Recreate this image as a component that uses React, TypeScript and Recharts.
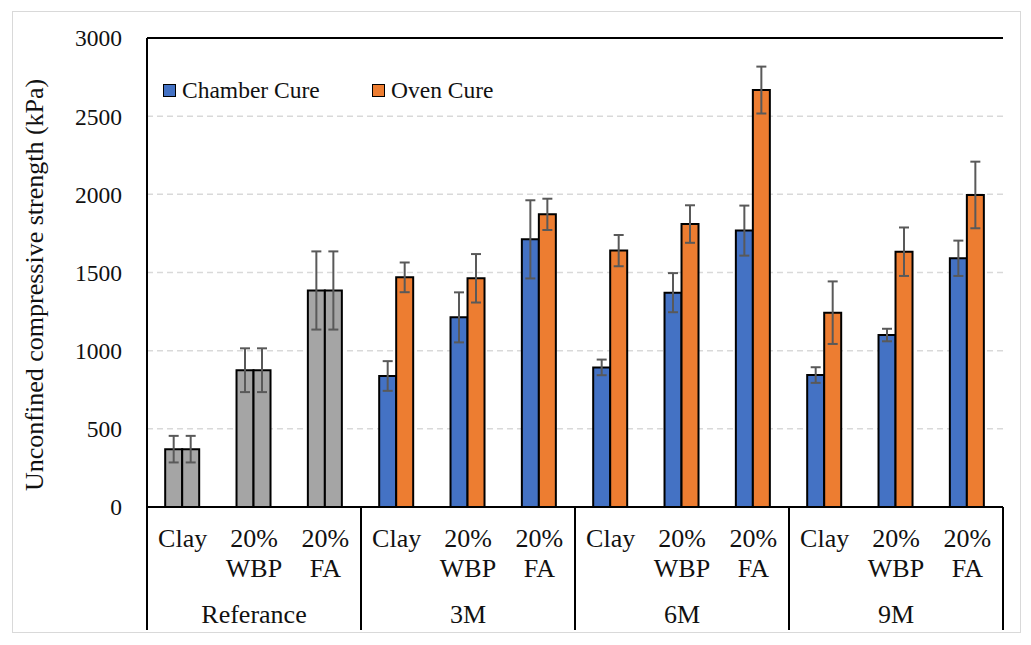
import React from "react";
import {
  BarChart, Bar, XAxis, YAxis, CartesianGrid, ErrorBar, Cell, ReferenceLine,
} from "recharts";

const categories = [
  "Clay", "20% WBP", "20% FA",
  "Clay", "20% WBP", "20% FA",
  "Clay", "20% WBP", "20% FA",
  "Clay", "20% WBP", "20% FA",
];
const groups = ["Referance", "3M", "6M", "9M"];

const chamber = [370, 875, 1385, 838, 1213, 1712, 893, 1371, 1768, 844, 1100, 1591];
const chamberErr = [85, 140, 250, 95, 160, 250, 50, 125, 160, 50, 40, 113];
const oven = [370, 875, 1385, 1469, 1463, 1872, 1640, 1810, 2667, 1243, 1633, 1996];
const ovenErr = [85, 140, 250, 95, 155, 100, 100, 120, 150, 200, 155, 213];

const yTicks = [0, 500, 1000, 1500, 2000, 2500, 3000];

const BLUE = "#4472C4";
const ORANGE = "#ED7D31";
const GRAY = "#A5A5A5";
const FONT = "Liberation Serif, DejaVu Serif, Times New Roman, serif";

const W = 1031;
const H = 645;
const margin = { top: 38, right: 28, left: 13, bottom: 13 };
const yAxisWidth = 134;
const xAxisHeight = 125;
const band = (W - margin.left - margin.right - yAxisWidth) / categories.length;

const data = categories.map((name, i) => ({
  name: `${name}#${i}`,
  label: name,
  group: groups[Math.floor(i / 3)],
  chamber: chamber[i],
  chamberErr: chamberErr[i],
  oven: oven[i],
  ovenErr: ovenErr[i],
}));

function CategoryTick(props: any) {
  const { x, y, index } = props;
  const d = data[index];
  const lines = d.label.split(" ");
  return (
    <g>
      {lines.map((t: string, k: number) => (
        <text key={k} x={x} y={y + 40 + k * 30} textAnchor="middle"
          style={{ fontFamily: FONT }} fontSize={26} fill="#111">{t}</text>
      ))}
      {index % 3 === 1 && (
        <text x={x} y={y + 116} textAnchor="middle" style={{ fontFamily: FONT }} fontSize={26} fill="#111">
          {d.group}
        </text>
      )}
      {index % 3 === 0 && (
        <line x1={x - band / 2} x2={x - band / 2} y1={y} y2={y + 123} stroke="#000" strokeWidth={2} />
      )}
      {index === categories.length - 1 && (
        <line x1={x + band / 2} x2={x + band / 2} y1={y} y2={y + 123} stroke="#000" strokeWidth={2} />
      )}
    </g>
  );
}

function YTitle(props: any) {
  const { viewBox } = props;
  const x = viewBox.x + 30;
  const y = 491;
  return (
    <text x={x} y={y} transform={`rotate(-90, ${x}, ${y})`} style={{ fontFamily: FONT }} fontSize={26} fill="#111">
      Unconfined compressive strength (kPa)
    </text>
  );
}

const legendItems = [
  { name: "Chamber Cure", color: BLUE, left: 163 },
  { name: "Oven Cure", color: ORANGE, left: 372 },
];

export default function App() {
  return (
    <div style={{ position: "relative", width: W, height: H, margin: -8, background: "#fff", fontFamily: FONT }}>
      <div style={{
        position: "absolute", left: 12, top: 11, width: 1007, height: 620,
        border: "1px solid #D9D9D9",
      }} />
      <BarChart width={W} height={H} data={data} margin={margin}
        barCategoryGap="25.5%" barGap={0} style={{ fontFamily: FONT }}>
        <CartesianGrid vertical={false} stroke="#D9D9D9" strokeDasharray="6 4" strokeWidth={1.5} />
        <XAxis dataKey="name" interval={0} height={xAxisHeight} tickLine={false}
          tickSize={0} tickMargin={0} tick={<CategoryTick />}
          axisLine={{ stroke: "#000", strokeWidth: 2 }} />
        <YAxis domain={[0, 3000]} ticks={yTicks} width={yAxisWidth} tickLine={false}
          tickSize={6} tickMargin={19} axisLine={{ stroke: "#000", strokeWidth: 2 }}
          tick={{ fontFamily: FONT, fontSize: 23.5, fill: "#111" }}
          label={{ content: <YTitle /> }} />
        <YAxis yAxisId="right" orientation="right" domain={[0, 3000]} width={0} tick={false}
          tickLine={false} axisLine={{ stroke: "#000", strokeWidth: 2 }} />
        <ReferenceLine y={3000} stroke="#000" strokeWidth={2} ifOverflow="visible" />
        <Bar dataKey="chamber" name="Chamber Cure" fill={BLUE} stroke="#000" strokeWidth={2}
          isAnimationActive={false}>
          {data.map((d, i) => <Cell key={i} fill={i < 3 ? GRAY : BLUE} />)}
          <ErrorBar dataKey="chamberErr" width={5} stroke="#595959" strokeWidth={2} />
        </Bar>
        <Bar dataKey="oven" name="Oven Cure" fill={ORANGE} stroke="#000" strokeWidth={2}
          isAnimationActive={false}>
          {data.map((d, i) => <Cell key={i} fill={i < 3 ? GRAY : ORANGE} />)}
          <ErrorBar dataKey="ovenErr" width={5} stroke="#595959" strokeWidth={2} />
        </Bar>
      </BarChart>
      {legendItems.map((it) => (
        <div key={it.name} style={{
          position: "absolute", left: it.left, top: 77, display: "flex", alignItems: "center",
          fontFamily: FONT, fontSize: 23.5, color: "#111", whiteSpace: "nowrap",
        }}>
          <span style={{
            display: "inline-block", width: 11, height: 11, background: it.color,
            border: "1.5px solid #000", marginRight: 6,
          }} />
          {it.name}
        </div>
      ))}
    </div>
  );
}
